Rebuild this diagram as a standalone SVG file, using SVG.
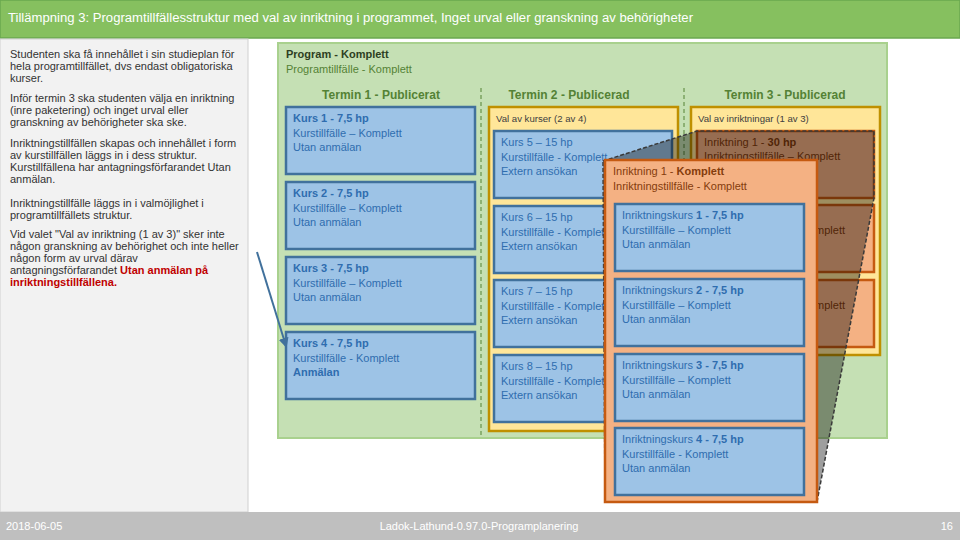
<svg xmlns="http://www.w3.org/2000/svg" width="960" height="540" viewBox="0 0 960 540">
<defs>
<style>
text{font-family:"Liberation Sans",Arial,sans-serif}
.lt{font-size:11px;fill:#333}
.red{fill:#C00000;font-weight:bold}
.kb{fill:#9DC3E6;stroke:#41719C;stroke-width:2.5}
.kt{font-size:11px;fill:#2F6DAF}
.b{font-weight:bold}
.yb{fill:#FFE699;stroke:#BF9000;stroke-width:2.5}
.yt{font-size:9.6px;fill:#404040}
.ob{fill:#F4B183;stroke:#C55A11;stroke-width:2.5}
.ot{font-size:11px;fill:#843C0C}
.th{font-size:12px;font-weight:bold;fill:#548235;text-anchor:middle}
.dl{stroke:#548235;stroke-width:1;stroke-dasharray:4 3}
.ft{font-size:11px;fill:#fff}
</style>
<clipPath id="vis"><rect x="818" y="100" width="70" height="260"/></clipPath>
<marker id="ah" viewBox="0 0 10 10" refX="8" refY="5" markerWidth="5" markerHeight="5" orient="auto">
<path d="M0,0 L10,5 L0,10 z" fill="#41719C"/>
</marker>
</defs>
<rect width="960" height="540" fill="#fff"/>
<g id="title">
<rect x="0" y="0" width="960" height="38" fill="#86C05F" stroke="#6AA84F" stroke-width="1.5"/>
<text x="8" y="22" font-size="12" fill="#fff" textLength="685" lengthAdjust="spacingAndGlyphs">Tillämpning 3: Programtillfällesstruktur med val av inriktning i programmet, Inget urval eller granskning av behörigheter</text>
</g>
<g id="left-panel">
<rect x="0" y="39" width="248" height="473" fill="#F2F2F2" stroke="#D0D0D0" stroke-width="1"/>
<text class="lt" x="10" y="58">Studenten ska få innehållet i sin studieplan för</text>
<text class="lt" x="10" y="70">hela programtillfället, dvs endast obligatoriska</text>
<text class="lt" x="10" y="82">kurser.</text>
<text class="lt" x="10" y="102">Inför termin 3 ska studenten välja en inriktning</text>
<text class="lt" x="10" y="114">(inre paketering) och inget urval eller</text>
<text class="lt" x="10" y="126">granskning av behörigheter ska ske.</text>
<text class="lt" x="10" y="147">Inriktningstillfällen skapas och innehållet i form</text>
<text class="lt" x="10" y="159">av kurstillfällen läggs in i dess struktur.</text>
<text class="lt" x="10" y="171">Kurstillfällena har antagningsförfarandet Utan</text>
<text class="lt" x="10" y="183">anmälan.</text>
<text class="lt" x="10" y="207"> Inriktningstillfälle läggs in i valmöjlighet i</text>
<text class="lt" x="10" y="219">programtillfällets struktur.</text>
<text class="lt" x="10" y="238">Vid valet "Val av inriktning (1 av 3)" sker inte</text>
<text class="lt" x="10" y="250">någon granskning av behörighet och inte heller</text>
<text class="lt" x="10" y="262">någon form av urval därav</text>
<text class="lt" x="10" y="274">antagningsförfarandet <tspan class="red">Utan anmälan på</tspan></text>
<text class="lt red" x="10" y="286">inriktningstillfällena.</text>
</g>
<g id="program">
<rect x="278" y="43" width="609" height="395" fill="#C5E0B4" stroke="#A9D18E" stroke-width="2"/>
<text x="286" y="58" font-size="11" font-weight="bold" fill="#2D3F22">Program - Komplett</text>
<text x="286" y="73" font-size="11" fill="#548235">Programtillfälle - Komplett</text>
<text class="th" x="381" y="98.5">Termin 1 - Publicerat</text>
<text class="th" x="569" y="98.5">Termin 2 - Publicerad</text>
<text class="th" x="785" y="98.5">Termin 3 - Publicerad</text>
<line class="dl" x1="481" y1="88" x2="481" y2="437"/>
<line class="dl" x1="684" y1="88" x2="684" y2="437"/>
</g>
<g id="kurs1"><rect class="kb" x="286" y="107" width="189" height="67"/>
<text class="kt" x="293" y="122"><tspan class="b">Kurs 1 - 7,5 hp</tspan><tspan x="293" dy="14.5">Kurstillfälle – Komplett</tspan><tspan x="293" dy="14.5">Utan anmälan</tspan></text></g>
<g id="kurs2"><rect class="kb" x="286" y="182" width="189" height="67"/>
<text class="kt" x="293" y="197"><tspan class="b">Kurs 2 - 7,5 hp</tspan><tspan x="293" dy="14.5">Kurstillfälle – Komplett</tspan><tspan x="293" dy="14.5">Utan anmälan</tspan></text></g>
<g id="kurs3"><rect class="kb" x="286" y="257" width="189" height="67"/>
<text class="kt" x="293" y="272"><tspan class="b">Kurs 3 - 7,5 hp</tspan><tspan x="293" dy="14.5">Kurstillfälle – Komplett</tspan><tspan x="293" dy="14.5">Utan anmälan</tspan></text></g>
<g id="kurs4"><rect class="kb" x="286" y="332" width="189" height="67"/>
<text class="kt" x="293" y="347"><tspan class="b">Kurs 4 - 7,5 hp</tspan><tspan x="293" dy="14.5">Kurstillfälle - Komplett</tspan><tspan x="293" dy="14.5" class="b">Anmälan</tspan></text></g>
<g id="val-kurser"><rect class="yb" x="489" y="107" width="189" height="324"/>
<text class="yt" x="496" y="121.5">Val av kurser (2 av 4)</text></g>
<g id="kurs5"><rect class="kb" x="494" y="131" width="178" height="67"/>
<text class="kt" x="501" y="146"><tspan>Kurs 5 – 15 hp</tspan><tspan x="501" dy="14.5">Kurstillfälle - Komplett</tspan><tspan x="501" dy="14.5">Extern ansökan</tspan></text></g>
<g id="kurs6"><rect class="kb" x="494" y="206" width="178" height="67"/>
<text class="kt" x="501" y="221"><tspan>Kurs 6 – 15 hp</tspan><tspan x="501" dy="14.5">Kurstillfälle - Komplett</tspan><tspan x="501" dy="14.5">Extern ansökan</tspan></text></g>
<g id="kurs7"><rect class="kb" x="494" y="280" width="178" height="67"/>
<text class="kt" x="501" y="295"><tspan>Kurs 7 – 15 hp</tspan><tspan x="501" dy="14.5">Kurstillfälle - Komplett</tspan><tspan x="501" dy="14.5">Extern ansökan</tspan></text></g>
<g id="kurs8"><rect class="kb" x="494" y="355" width="178" height="67"/>
<text class="kt" x="501" y="370"><tspan>Kurs 8 – 15 hp</tspan><tspan x="501" dy="14.5">Kurstillfälle - Komplett</tspan><tspan x="501" dy="14.5">Extern ansökan</tspan></text></g>
<g id="val-inriktningar"><rect class="yb" x="691" y="107" width="189" height="248"/>
<text class="yt" x="698" y="121.5">Val av inriktningar (1 av 3)</text></g>
<g id="inriktning1"><rect class="ob" x="697" y="131" width="177" height="67"/>
<text class="ot" x="704" y="145.5">Inriktning 1 - <tspan class="b">30 hp</tspan><tspan x="704" dy="14.5">Inriktningstillfälle – Komplett</tspan></text></g>
<g id="inriktning2"><rect class="ob" x="697" y="205" width="177" height="67"/>
<text class="ot" x="845" y="234" text-anchor="end" clip-path="url(#vis)">Komplett</text></g>
<g id="inriktning3"><rect class="ob" x="697" y="280" width="177" height="67"/>
<text class="ot" x="845" y="309" text-anchor="end" clip-path="url(#vis)">Komplett</text></g>
<g id="zoom-overlay">
<polygon points="603,161 697,131 874,131 874,198 817,502 605,502" fill="#000" fill-opacity="0.38" stroke="#3A3A3A" stroke-width="1.5" stroke-dasharray="4 2"/>
</g>
<g id="inriktning1-detalj">
<rect class="ob" x="605" y="160" width="212" height="342"/>
<text class="ot" x="613" y="174.5">Inriktning 1 - <tspan class="b">Komplett</tspan><tspan x="613" dy="15">Inriktningstillfälle - Komplett</tspan></text>
</g>
<g id="inriktningskurs1"><rect class="kb" x="615" y="204" width="189" height="67"/>
<text class="kt" x="622" y="219">Inriktningskurs <tspan class="b">1 - 7,5 hp</tspan><tspan x="622" dy="14.5">Kurstillfälle – Komplett</tspan><tspan x="622" dy="14.5">Utan anmälan</tspan></text></g>
<g id="inriktningskurs2"><rect class="kb" x="615" y="279" width="189" height="67"/>
<text class="kt" x="622" y="294">Inriktningskurs <tspan class="b">2 - 7,5 hp</tspan><tspan x="622" dy="14.5">Kurstillfälle – Komplett</tspan><tspan x="622" dy="14.5">Utan anmälan</tspan></text></g>
<g id="inriktningskurs3"><rect class="kb" x="615" y="354" width="189" height="67"/>
<text class="kt" x="622" y="369">Inriktningskurs <tspan class="b">3 - 7,5 hp</tspan><tspan x="622" dy="14.5">Kurstillfälle – Komplett</tspan><tspan x="622" dy="14.5">Utan anmälan</tspan></text></g>
<g id="inriktningskurs4"><rect class="kb" x="615" y="428" width="189" height="67"/>
<text class="kt" x="622" y="443">Inriktningskurs <tspan class="b">4 - 7,5 hp</tspan><tspan x="622" dy="14.5">Kurstillfälle - Komplett</tspan><tspan x="622" dy="14.5">Utan anmälan</tspan></text></g>
<g id="connectors">
<line x1="257" y1="252" x2="286" y2="346" stroke="#41719C" stroke-width="2" marker-end="url(#ah)"/>
</g>
<g id="footer">
<rect x="0" y="512" width="960" height="28" fill="#BFBFBF"/>
<text class="ft" x="6" y="530">2018-06-05</text>
<text class="ft" x="479" y="530" text-anchor="middle">Ladok-Lathund-0.97.0-Programplanering</text>
<text class="ft" x="953" y="530" text-anchor="end">16</text>
</g>
</svg>
